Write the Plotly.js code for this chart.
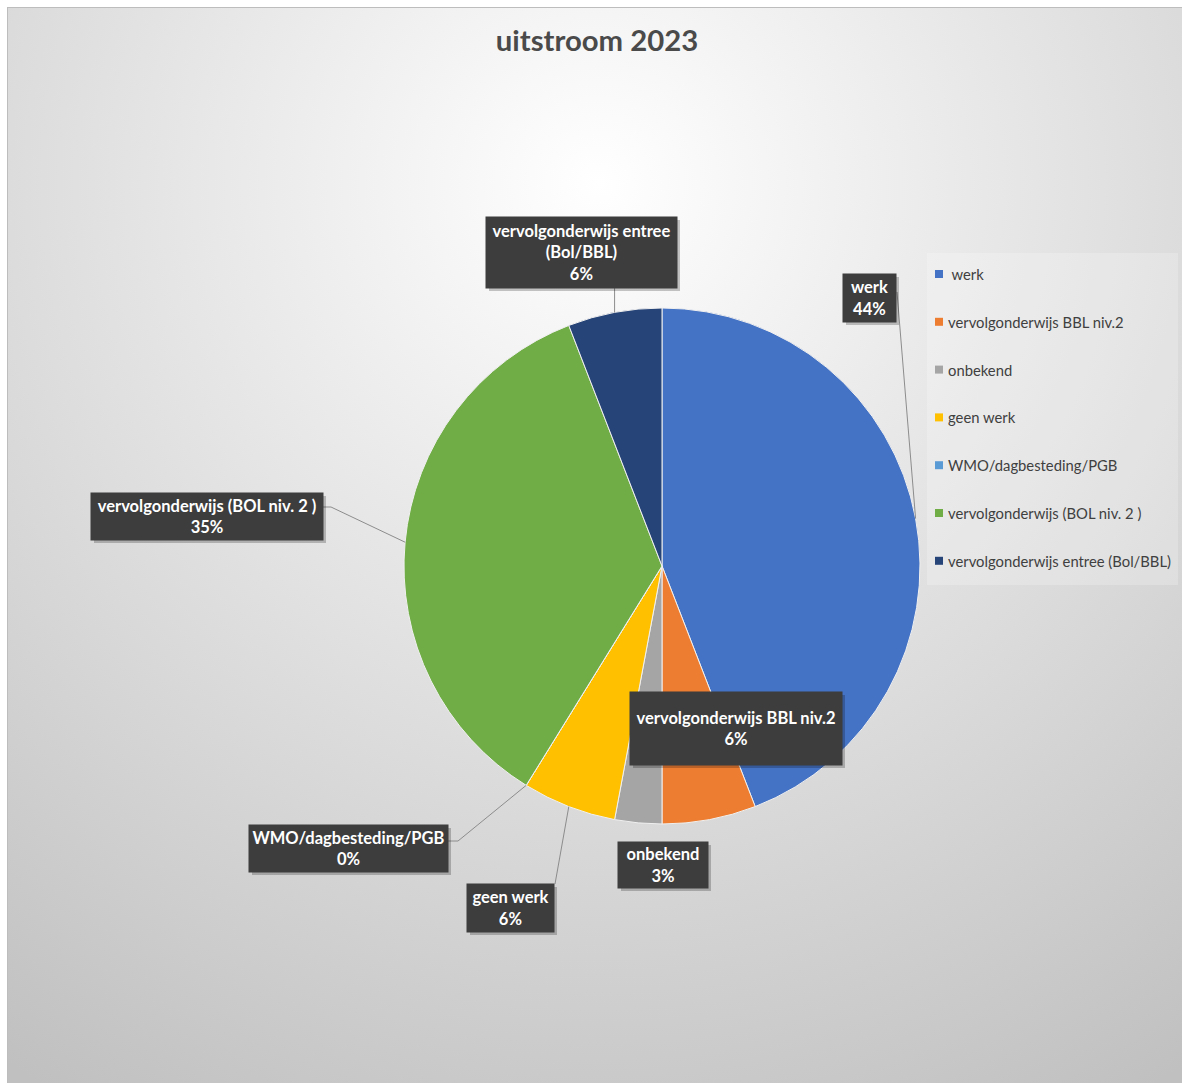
<!DOCTYPE html>
<html>
<head>
<meta charset="utf-8">
<script src="https://cdn.plot.ly/plotly-3.0.1.min.js"></script>
<style>
  html, body { margin:0; padding:0; background:#ffffff; }
  #frame { position:absolute; left:7px; top:7px; width:1175px; height:1076px;
           border-top:1px solid #bdbdbd; border-left:1px solid #bdbdbd; box-sizing:border-box;
           background: radial-gradient(circle 1060px at 590px 175px, #ffffff 0%, #c0c0c0 100%); }
  #chart { position:absolute; left:0; top:0; width:1182px; height:1083px; }
</style>
</head>
<body>
<div id="frame"></div>
<div id="chart"></div>
<script>
// ---- data ----
const categories = ["werk", "vervolgonderwijs BBL niv.2", "onbekend", "geen werk",
                    "WMO/dagbesteding/PGB", "vervolgonderwijs (BOL niv. 2 )", "vervolgonderwijs entree (Bol/BBL)"];
const values = [15, 2, 1, 2, 0, 12, 2];
const colors = ["#4472C4", "#ED7D31", "#A5A5A5", "#FFC000", "#5B9BD5", "#70AD47", "#264478"];
const labelTexts = ["werk", "vervolgonderwijs BBL niv.2", "onbekend", "geen werk",
                    "WMO/dagbesteding/PGB", "vervolgonderwijs (BOL niv. 2 )", "vervolgonderwijs entree<br>(Bol/BBL)"];
const legendTexts = [" werk", "vervolgonderwijs BBL niv.2", "onbekend", "geen werk",
                     "WMO/dagbesteding/PGB", "vervolgonderwijs (BOL niv. 2 )", "vervolgonderwijs entree (Bol/BBL)"];

// ---- layout config (pixels) ----
const W = 1182, H = 1083;
const pie = { cx: 662, cy: 566, r: 258 };
const boxes = [
  { l: 843, t: 274, w: 53,  h: 48, anchor: [897, 292] },
  { l: 630, t: 692, w: 212, h: 73, anchor: null },
  { l: 618, t: 842, w: 90,  h: 46, anchor: null },
  { l: 467, t: 884, w: 87,  h: 48, anchor: [555, 884] },
  { l: 249, t: 825, w: 199, h: 47, anchor: [448, 841], elbow: [458, 841] },
  { l: 91,  t: 493, w: 232, h: 47, anchor: [323, 507], elbow: [331, 507] },
  { l: 486, t: 217, w: 191, h: 71, anchor: null, down: true }
];
const legend = { l: 927, t: 253, w: 251, h: 332, markerX: 935, textX: 946, y0: 274, dy: 47.8 };

const px = x => x / W;
const py = y => 1 - y / H;

const total = values.reduce((a, b) => a + b, 0);
const pct = values.map(v => Math.round(v / total * 100) + "%");

const trace = {
  type: "pie",
  labels: categories,
  values: values,
  sort: false,
  direction: "clockwise",
  rotation: 0,
  textinfo: "none",
  hoverinfo: "label+value+percent",
  marker: { colors: colors, line: { color: "#f0f0f0", width: 1 } },
  domain: { x: [px(pie.cx - pie.r), px(pie.cx + pie.r)], y: [py(pie.cy + pie.r), py(pie.cy - pie.r)] },
  showlegend: false
};

const shapes = [];
const annotations = [];
const FONT = "Lato, 'DejaVu Sans', sans-serif";

let cum = 0;
const edge = values.map(v => {
  const mid = (cum + v / 2) / total * 2 * Math.PI;
  cum += v;
  return [pie.cx + pie.r * Math.sin(mid), pie.cy - pie.r * Math.cos(mid)];
});
boxes.forEach((b, i) => {
  let pts = [];
  if (b.anchor) {
    pts.push(b.anchor);
    if (b.elbow) pts.push(b.elbow);
  } else if (b.down) {
    pts.push([edge[i][0], b.t + b.h]);
  }
  if (pts.length) {
    pts.push(edge[i]);
    const path = pts.map((p, k) => (k ? "L" : "M") + px(p[0]) + "," + py(p[1])).join(" ");
    shapes.push({ type: "path", xref: "paper", yref: "paper", path: path,
                  line: { color: "#8c8c8c", width: 1 }, layer: "above" });
  }
  shapes.push({ type: "rect", xref: "paper", yref: "paper",
                x0: px(b.l + 3), x1: px(b.l + b.w + 3), y0: py(b.t + b.h + 3), y1: py(b.t + 3),
                fillcolor: "rgba(0,0,0,0.22)", line: { width: 0 }, layer: "above" });
  annotations.push({
    xref: "paper", yref: "paper", x: px(b.l + b.w / 2), y: py(b.t + b.h / 2),
    xanchor: "center", yanchor: "middle", showarrow: false,
    width: b.w, height: b.h, borderpad: 0, bgcolor: "#3d3d3d",
    text: labelTexts[i] + "<br>" + pct[i], align: "center", valign: "middle",
    font: { family: FONT, size: 16.5, color: "#ffffff", weight: "bold" }
  });
});

shapes.push({ type: "rect", xref: "paper", yref: "paper",
              x0: px(legend.l), x1: px(legend.l + legend.w), y0: py(legend.t + legend.h), y1: py(legend.t),
              fillcolor: "rgba(255,255,255,0.22)", line: { width: 0 }, layer: "below" });
categories.forEach((c, i) => {
  const yc = legend.y0 + i * legend.dy;
  shapes.push({ type: "rect", xref: "paper", yref: "paper",
                x0: px(legend.markerX), x1: px(legend.markerX + 8), y0: py(yc + 4), y1: py(yc - 4),
                fillcolor: colors[i], line: { width: 0 }, layer: "above" });
  annotations.push({
    xref: "paper", yref: "paper", x: px(legend.textX), y: py(yc), xanchor: "left", yanchor: "middle",
    showarrow: false, text: legendTexts[i],
    font: { family: FONT, size: 14.8, color: "#404040" }
  });
});

const layout = {
  width: W, height: H,
  margin: { l: 0, r: 0, t: 0, b: 0 },
  paper_bgcolor: "rgba(0,0,0,0)",
  plot_bgcolor: "rgba(0,0,0,0)",
  showlegend: false,
  title: { text: "uitstroom 2023", x: px(597), xanchor: "center", y: py(41), yanchor: "middle",
           font: { family: FONT, size: 29.3, color: "#4a4a4a", weight: "bold" } },
  shapes: shapes,
  annotations: annotations
};

Plotly.newPlot("chart", [trace], layout, { displayModeBar: false, staticPlot: true });
</script>
</body>
</html>
